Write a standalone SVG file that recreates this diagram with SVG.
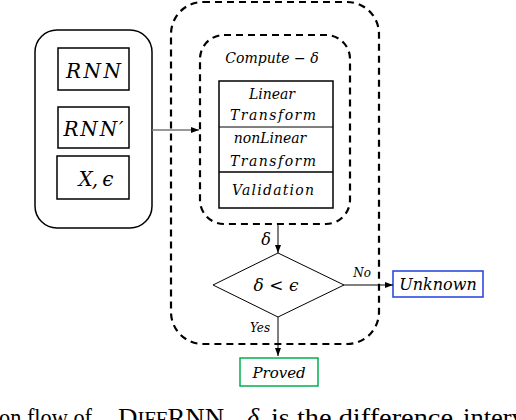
<svg xmlns="http://www.w3.org/2000/svg" width="516" height="420" viewBox="0 0 516 420">
<style>
.m{font-family:"DejaVu Serif","Liberation Serif",serif;font-style:italic;fill:#000;text-anchor:middle}
.box{fill:none;stroke:#000;stroke-width:1.5}
.dash{fill:none;stroke:#000;stroke-width:2.2;stroke-dasharray:7 5}
.ln{fill:none;stroke:#000;stroke-width:1}
.cap{font-family:"Liberation Serif",serif;font-size:26px;fill:#000}
</style>
<defs>
<marker id="ah" viewBox="0 0 8 8" refX="8" refY="4" markerWidth="8" markerHeight="8" markerUnits="userSpaceOnUse" orient="auto">
<path d="M0,1 L8,4 L0,7 Z" fill="#000"/>
</marker>
</defs>
<g id="inputs">
<rect x="35" y="30" width="117" height="198" rx="22" class="box"/>
<g id="rnn"><rect x="58" y="48" width="71" height="42" class="box"/><text x="93.5" y="78" class="m" font-size="20" textLength="55">RNN</text></g>
<g id="rnn2"><rect x="58" y="107" width="71" height="41" class="box"/><text x="93.5" y="136" class="m" font-size="20" textLength="60">RNN′</text></g>
<g id="xeps"><rect x="57" y="156" width="72" height="43" class="box"/><text x="96" y="186" class="m" font-size="20" textLength="35">X, ϵ</text></g>
</g>
<g id="outer"><rect x="171" y="2" width="208" height="342" rx="32" class="dash"/></g>
<g id="compute">
<rect x="200" y="35" width="150" height="189" rx="24" class="dash"/>
<text x="272" y="63" class="m" font-size="14">Compute − δ</text>
<rect x="219" y="81" width="114" height="127" class="box"/>
<line x1="219" y1="127" x2="333" y2="127" class="ln"/>
<line x1="219" y1="172" x2="333" y2="172" stroke="#000" stroke-width="1.5"/>
<text x="272" y="99" class="m" font-size="14">Linear</text>
<text x="273" y="120" class="m" font-size="14" textLength="86">Transform</text>
<text x="270" y="143" class="m" font-size="14">nonLinear</text>
<text x="273" y="166" class="m" font-size="14" textLength="86">Transform</text>
<text x="273" y="195" class="m" font-size="14" textLength="82">Validation</text>
</g>
<g id="decision">
<path d="M278,253 L344,285 L278,317 L213,285 Z" class="ln"/>
<text x="276" y="291" class="m" font-size="17" font-style="normal">δ &lt; ϵ</text>
</g>
<g id="unknown"><rect x="393" y="271" width="90" height="26" fill="none" stroke="#1f3fe0" stroke-width="1.5"/><text x="438" y="290" class="m" font-size="16">Unknown</text></g>
<g id="proved"><rect x="240" y="358" width="78" height="28" fill="none" stroke="#00b050" stroke-width="1.5"/><text x="279" y="378" class="m" font-size="15">Proved</text></g>
<g id="connectors">
<line x1="152" y1="130" x2="199" y2="130" stroke="#777" stroke-width="1.5" marker-end="url(#ah)"/>
<line x1="278" y1="224" x2="278" y2="253" class="ln" marker-end="url(#ah)"/>
<line x1="344" y1="285" x2="393" y2="285" class="ln" marker-end="url(#ah)"/>
<line x1="278" y1="317" x2="278" y2="356" class="ln" marker-end="url(#ah)"/>
<text x="266" y="245" class="m" font-size="16">δ</text>
<text x="362" y="277" class="m" font-size="12">No</text>
<text x="260" y="332" class="m" font-size="12">Yes</text>
</g>
<g id="caption">
<text x="-1" y="426" class="cap" textLength="93" lengthAdjust="spacingAndGlyphs">on flow of</text>
<text x="118" y="426" class="cap" textLength="113" lengthAdjust="spacingAndGlyphs">D<tspan font-size="20">IFF</tspan>RNN.</text>
<text x="247" y="426" class="cap" font-style="italic">δ</text>
<text x="271" y="426" class="cap" textLength="182" lengthAdjust="spacingAndGlyphs">is the difference</text>
<text x="463" y="426" class="cap" textLength="62" lengthAdjust="spacingAndGlyphs">interv</text>
</g>
</svg>
